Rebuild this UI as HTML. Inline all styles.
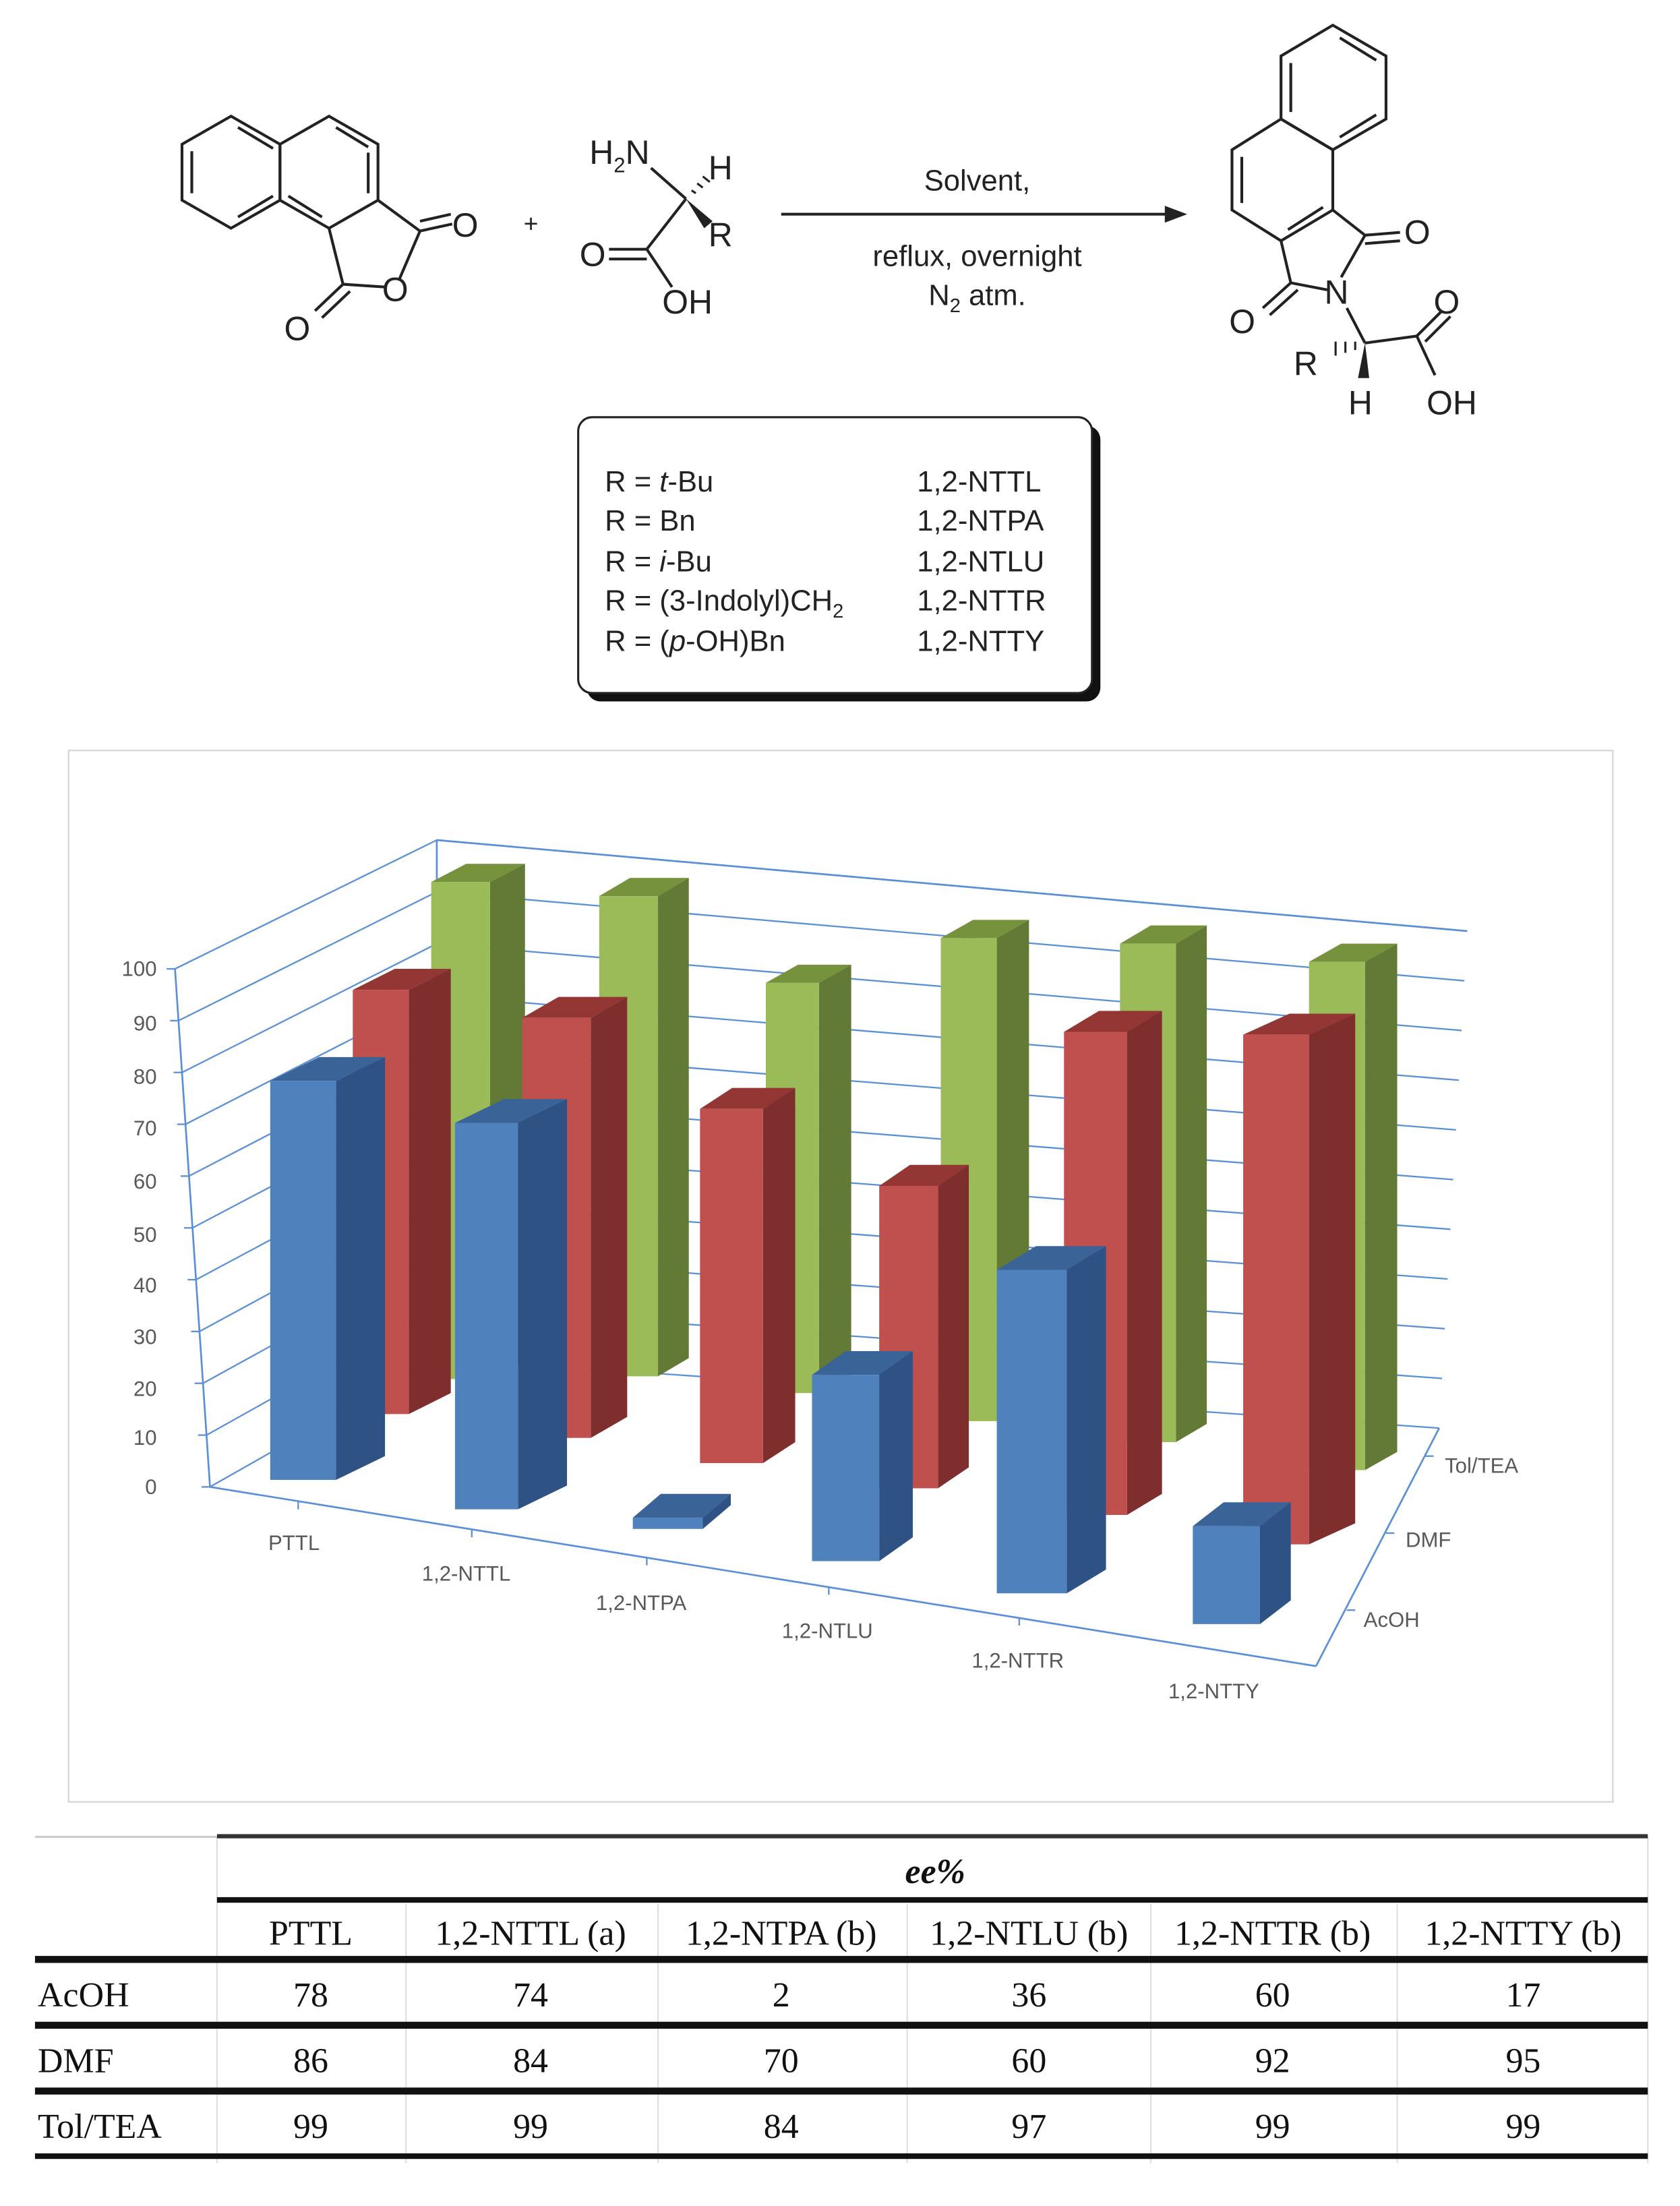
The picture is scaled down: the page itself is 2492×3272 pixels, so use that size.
<!DOCTYPE html>
<html><head><meta charset="utf-8"><style>
html,body{margin:0;padding:0;background:#fff}
svg{display:block}
.s{font-family:"Liberation Sans",sans-serif}
.t{font-family:"Liberation Serif",serif}
</style></head><body>
<svg width="2492" height="3272" viewBox="0 0 1200 1575.6" preserveAspectRatio="none" xmlns="http://www.w3.org/2000/svg">
<rect width="1200" height="1576" fill="#fff"/>
<!-- left molecule -->
<g stroke="#222" stroke-width="2" fill="none">
<polygon points="165,83 200,103 200,143 165,163 130,143 130,103"/>
<polygon points="235,83 270,103 270,143 235,163 200,143 200,103"/>
<line x1="137" y1="108" x2="137" y2="138"/><line x1="170" y1="91" x2="195" y2="106"/><line x1="170" y1="155" x2="195" y2="140"/>
<line x1="240" y1="91" x2="263" y2="105"/><line x1="263" y1="109" x2="263" y2="138"/><line x1="206" y1="140" x2="230" y2="155"/>
<polyline points="270,143 300,165 285,200"/><polyline points="235,163 245,203 275,205"/>
<line x1="300" y1="165" x2="323" y2="160"/><line x1="300" y1="158" x2="322" y2="153"/>
<line x1="245" y1="203" x2="225" y2="222"/><line x1="250" y1="208" x2="230" y2="227"/>
<!-- amino acid -->
<line x1="465" y1="120" x2="490" y2="142"/>
<line x1="490" y1="142" x2="462" y2="178"/>
<line x1="462" y1="178" x2="435" y2="178"/><line x1="462" y1="185" x2="435" y2="185"/>
<line x1="462" y1="178" x2="480" y2="205"/>
<line x1="558" y1="153" x2="835" y2="153"/>
</g>
<polygon points="490,142 509,158 503,163" fill="#222"/>
<g stroke="#222" stroke-width="1.5"><line x1="494" y1="136" x2="497" y2="138"/><line x1="498" y1="131" x2="502" y2="134"/><line x1="502" y1="126" x2="507" y2="130"/></g>
<polygon points="848,153 832,147 832,159" fill="#222"/>
<g class="s" font-size="24" fill="#222">
<text x="323" y="169">O</text><text x="273" y="215">O</text><text x="203" y="243">O</text>
<text x="374" y="166" font-size="18">+</text>
<text x="421" y="117">H<tspan font-size="15" dy="6">2</tspan><tspan dy="-6">N</tspan></text>
<text x="506" y="128">H</text><text x="506" y="176">R</text>
<text x="414" y="190">O</text><text x="473" y="224">OH</text>
</g>
<g class="s" font-size="21" fill="#222" text-anchor="middle">
<text x="698" y="136">Solvent,</text><text x="698" y="190">reflux, overnight</text><text x="698" y="218">N<tspan font-size="14" dy="5">2</tspan><tspan dy="-5"> atm.</tspan></text>
</g>
<!-- product -->
<g stroke="#222" stroke-width="2" fill="none">
<polygon points="952,18 990,40 990,85 952,107 915,85 915,40"/>
<polygon points="915,85 952,107 952,150 915,172 880,150 880,107"/>
<line x1="957" y1="27" x2="983" y2="43"/><line x1="983" y1="82" x2="957" y2="98"/><line x1="922" y1="45" x2="922" y2="80"/>
<line x1="887" y1="112" x2="887" y2="145"/><line x1="920" y1="164" x2="945" y2="148"/>
<polyline points="952,150 975,168 958,198"/><polyline points="915,172 922,202 948,207"/>
<line x1="975" y1="168" x2="1000" y2="166"/><line x1="975" y1="174" x2="1000" y2="172"/>
<line x1="922" y1="202" x2="902" y2="220"/><line x1="927" y1="207" x2="907" y2="225"/>
<line x1="962" y1="220" x2="975" y2="245"/>
<line x1="975" y1="245" x2="1012" y2="240"/>
<line x1="1012" y1="240" x2="1030" y2="222"/><line x1="1018" y1="244" x2="1036" y2="226"/>
<line x1="1012" y1="240" x2="1025" y2="268"/>
</g>
<polygon points="975,245 970,270 978,270" fill="#222"/>
<g stroke="#222" stroke-width="1.5"><line x1="968" y1="244" x2="968" y2="250"/><line x1="961" y1="244" x2="961" y2="252"/><line x1="954" y1="244" x2="954" y2="254"/></g>
<g class="s" font-size="24" fill="#222">
<text x="1003" y="174">O</text><text x="946" y="217">N</text><text x="878" y="238">O</text>
<text x="1024" y="224">O</text><text x="924" y="268">R</text><text x="963" y="296">H</text><text x="1019" y="296">OH</text>
</g>
<!-- R box -->
<rect x="419" y="304" width="367" height="197" rx="10" fill="#111"/>
<rect x="413" y="298" width="367" height="197" rx="10" fill="#fff" stroke="#222" stroke-width="1.5"/>
<g class="s" font-size="21" fill="#222">
<text x="432" y="351">R = <tspan font-style="italic">t</tspan>-Bu</text>
<text x="432" y="379">R = Bn</text>
<text x="432" y="408">R = <tspan font-style="italic">i</tspan>-Bu</text>
<text x="432" y="436">R = (3-Indolyl)CH<tspan font-size="14" dy="5">2</tspan></text>
<text x="432" y="465">R = (<tspan font-style="italic">p</tspan>-OH)Bn</text>
<text x="655" y="351">1,2-NTTL</text><text x="655" y="379">1,2-NTPA</text><text x="655" y="408">1,2-NTLU</text><text x="655" y="436">1,2-NTTR</text><text x="655" y="465">1,2-NTTY</text>
</g>
<!-- chart -->
<rect x="49" y="536" width="1103" height="751" fill="#fff" stroke="#d9d9d9" stroke-width="1.2"/>
<g stroke="#5b8fd6" stroke-width="1.3" fill="none">
<line x1="125" y1="692" x2="150" y2="1062"/>
<line x1="150" y1="1062" x2="940" y2="1190"/>
<line x1="1028" y1="1020" x2="940" y2="1190"/>
<line x1="312" y1="600" x2="312" y2="970"/>
<line x1="312" y1="600" x2="1048" y2="665"/>
</g>
<g stroke="#5b8fd6" stroke-width="1.1" fill="none" id="grid"></g>
<script>
(function(){var g=document.getElementById('grid'),ns='http://www.w3.org/2000/svg';
for(var i=0;i<=10;i++){var f=i/10;
var fx=150-25*f,fy=1062-370*f,bx=312,by=970-370*f,rx=1028+20*f,ry=1020-355*f;
var l=document.createElementNS(ns,'polyline');l.setAttribute('points',fx+','+fy+' '+bx+','+by+' '+rx+','+ry);g.appendChild(l);
var t=document.createElementNS(ns,'line');t.setAttribute('x1',fx-6);t.setAttribute('y1',fy);t.setAttribute('x2',fx);t.setAttribute('y2',fy);g.appendChild(t);}
})();
</script>
<g stroke="#5b8fd6" stroke-width="1.1">
<line x1="213" y1="1072" x2="213" y2="1078"/><line x1="337" y1="1092" x2="337" y2="1098"/><line x1="462" y1="1112" x2="462" y2="1118"/><line x1="592" y1="1133" x2="592" y2="1139"/><line x1="728" y1="1155" x2="728" y2="1161"/>
<line x1="1018" y1="1040" x2="1024" y2="1040"/><line x1="990" y1="1095" x2="996" y2="1095"/><line x1="962" y1="1150" x2="968" y2="1150"/>
</g>
<g class="s" font-size="15" fill="#595959" text-anchor="end">
<text x="112" y="697">100</text><text x="112" y="736">90</text><text x="112" y="774">80</text><text x="112" y="811">70</text><text x="112" y="849">60</text><text x="112" y="887">50</text><text x="112" y="923">40</text><text x="112" y="960">30</text><text x="112" y="997">20</text><text x="112" y="1032">10</text><text x="112" y="1067">0</text>
</g>
<g class="s" font-size="15" fill="#595959" text-anchor="middle">
<text x="210" y="1107">PTTL</text><text x="333" y="1129">1,2-NTTL</text><text x="458" y="1150">1,2-NTPA</text><text x="591" y="1170">1,2-NTLU</text><text x="727" y="1191">1,2-NTTR</text><text x="867" y="1213">1,2-NTTY</text>
</g>
<g class="s" font-size="15" fill="#595959">
<text x="1032" y="1052">Tol/TEA</text><text x="1004" y="1105">DMF</text><text x="974" y="1162">AcOH</text>
</g>
<g id="bars"></g>
<script>
(function(){var g=document.getElementById('bars'),ns='http://www.w3.org/2000/svg';
function P(pts,c){var p=document.createElementNS(ns,'polygon');p.setAttribute('points',pts.map(function(a){return a.join(',')}).join(' '));p.setAttribute('fill',c);g.appendChild(p);}
function bar(xl,xr,yt,yb,xs,dy,c){var dx=xs-xr;
P([[xl,yt],[xl+dx,yt+dy],[xs,yt+dy],[xr,yt]],c[2]);
P([[xr,yt],[xs,yt+dy],[xs,yb+dy],[xr,yb]],c[1]);
P([[xl,yt],[xr,yt],[xr,yb],[xl,yb]],c[0]);}
var G=['#9BBB59','#627A35','#76923C'],R=['#C0504D','#7E2E2C','#943634'],B=['#4F81BD','#2E5283','#3A6398'];
[[308,350,630,985,375],[428,470,640,983,492],[547,585,702,995,608],[672,712,670,1015,735],[800,840,674,1030,862],[935,975,687,1050,998]].forEach(function(a){bar(a[0],a[1],a[2],a[3],a[4],-13,G);});
[[252,292,707,1010,322],[373,422,727,1027,448],[500,545,792,1045,568],[628,670,847,1063,692],[760,805,737,1082,830],[888,935,739,1103,968]].forEach(function(a){bar(a[0],a[1],a[2],a[3],a[4],-15,R);});
[[193,240,772,1057,275],[325,370,802,1078,405],[452,502,1084,1092,522],[580,628,982,1115,652],[712,762,907,1138,790],[852,900,1090,1160,922]].forEach(function(a){bar(a[0],a[1],a[2],a[3],a[4],-17,B);});
})();
</script>
<!-- table -->
<g stroke="#ddd" stroke-width="1">
<line x1="155" y1="1312" x2="155" y2="1545"/><line x1="290" y1="1360" x2="290" y2="1545"/><line x1="470" y1="1360" x2="470" y2="1545"/><line x1="648" y1="1360" x2="648" y2="1545"/><line x1="822" y1="1360" x2="822" y2="1545"/><line x1="998" y1="1360" x2="998" y2="1545"/><line x1="1177" y1="1312" x2="1177" y2="1545"/>
</g>
<line x1="25" y1="1312" x2="155" y2="1312" stroke="#ccc" stroke-width="1.5"/>
<rect x="155" y="1310" width="1022" height="3" fill="#333"/>
<rect x="155" y="1355" width="1022" height="4" fill="#111"/>
<rect x="25" y="1397" width="1152" height="5" fill="#111"/>
<rect x="25" y="1444" width="1152" height="5" fill="#111"/>
<rect x="25" y="1491" width="1152" height="5" fill="#111"/>
<rect x="25" y="1538" width="1152" height="4" fill="#111"/>
<text x="668" y="1345" class="t" font-size="25" font-weight="bold" font-style="italic" text-anchor="middle" fill="#111">ee%</text>
<g class="t" font-size="25" fill="#111" text-anchor="middle">
<text x="222" y="1389">PTTL</text><text x="379" y="1389">1,2-NTTL (a)</text><text x="558" y="1389">1,2-NTPA (b)</text><text x="735" y="1389">1,2-NTLU (b)</text><text x="909" y="1389">1,2-NTTR (b)</text><text x="1088" y="1389">1,2-NTTY (b)</text>
<text x="222" y="1433">78</text><text x="379" y="1433">74</text><text x="558" y="1433">2</text><text x="735" y="1433">36</text><text x="909" y="1433">60</text><text x="1088" y="1433">17</text>
<text x="222" y="1480">86</text><text x="379" y="1480">84</text><text x="558" y="1480">70</text><text x="735" y="1480">60</text><text x="909" y="1480">92</text><text x="1088" y="1480">95</text>
<text x="222" y="1527">99</text><text x="379" y="1527">99</text><text x="558" y="1527">84</text><text x="735" y="1527">97</text><text x="909" y="1527">99</text><text x="1088" y="1527">99</text>
</g>
<g class="t" font-size="25" fill="#111">
<text x="27" y="1433">AcOH</text><text x="27" y="1480">DMF</text><text x="27" y="1527">Tol/TEA</text>
</g>
</svg>
</body></html>
